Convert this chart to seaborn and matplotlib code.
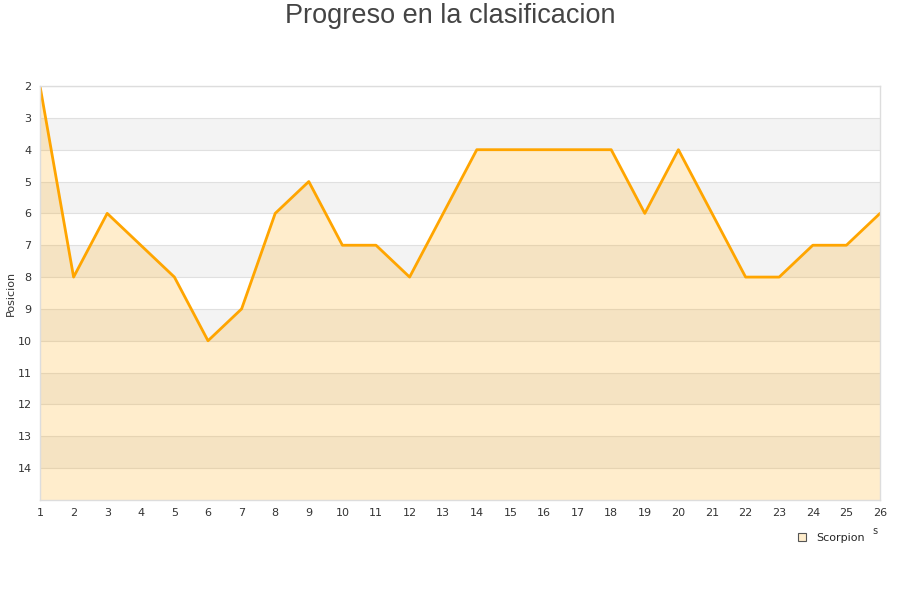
import matplotlib
matplotlib.use('Agg')
import matplotlib.pyplot as plt
import seaborn as sb
import numpy as np
import pandas as pd

# Datos
jornadas = list(range(1, 27))
posiciones = [2, 8, 6, 7, 8, 10, 9, 6, 5, 7, 7, 8, 6, 4, 4, 4, 4, 4, 6, 4, 6, 8, 8, 7, 7, 6]
equipo = "Scorpion"
y_ticks = list(range(2, 15))

sb.set_theme(style="white")
plt.rcParams['font.family'] = ['DejaVu Sans']

df = pd.DataFrame({"Jornada": jornadas, "Posicion": posiciones})

fig = plt.figure(figsize=(9, 6), dpi=100, facecolor="white")
ax = fig.add_axes([40 / 900, 1 - 500 / 600, 840 / 900, 414 / 600])

# Bandas alternas
for k in range(2, 15):
    if k % 2 == 1:
        ax.axhspan(k, k + 1, color="#f3f3f3", zorder=0, lw=0)
    ax.axhline(k, color="#e0e0e0", lw=0.8, zorder=0.5)

ax.fill_between(df["Jornada"], df["Posicion"], 15, color="#ffa500", alpha=0.2, lw=0, zorder=1)
sb.lineplot(data=df, x="Jornada", y="Posicion", ax=ax, color="#ffa500", lw=2, zorder=2, legend=False)

ax.set_xlim(1, 26)
ax.set_ylim(15, 2)
ax.set_xticks(jornadas)
ax.set_yticks(y_ticks)
ax.tick_params(axis="both", labelsize=8, colors="#333333", length=0, pad=6)
ax.set_xlabel("")
ax.set_ylabel("Posicion", fontsize=8, color="#333333", labelpad=1)

for s in ax.spines.values():
    s.set_color("#dddddd")
    s.set_linewidth(1)

fig.text(0.5, 1 - 16 / 600, "Progreso en la clasificacion", ha="center", va="center",
         fontsize=19.5, color="#444444", family=["Liberation Sans", "DejaVu Sans"])
fig.text(875 / 900, 1 - 531 / 600, "s", ha="center", va="center", fontsize=7, color="#333333")

ax.legend(handles=[plt.Line2D([], [], marker="s", ls="", markersize=6, markerfacecolor="#ffedcc",
                              markeredgecolor="#555555", markeredgewidth=0.8)],
          labels=[equipo], loc="center", bbox_to_anchor=(828 / 900, 1 - 538 / 600),
          bbox_transform=fig.transFigure, frameon=False, fontsize=8, handletextpad=0.3)

plt.savefig("out.png", dpi=100, facecolor="white")
plt.close()
